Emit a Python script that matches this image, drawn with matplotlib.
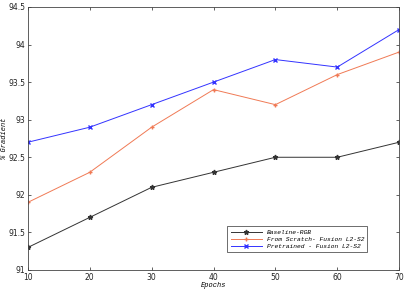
import matplotlib
matplotlib.use("Agg")
import matplotlib.pyplot as plt

epochs = [10, 20, 30, 40, 50, 60, 70]
baseline = [91.3, 91.7, 92.1, 92.3, 92.5, 92.5, 92.7]
scratch = [91.9, 92.3, 92.9, 93.4, 93.2, 93.6, 93.9]
pretrained = [92.7, 92.9, 93.2, 93.5, 93.8, 93.7, 94.2]
labels = ["Baseline-RGB", "From Scratch- Fusion L2-S2", "Pretrained - Fusion L2-S2"]

fig = plt.figure(figsize=(4.04, 2.9), dpi=100)
ax = fig.add_axes([0.069, 0.069, 0.919, 0.907])

ax.plot(epochs, baseline, color="#333333", lw=0.7, marker="*", ms=3.5, label=labels[0])
ax.plot(epochs, scratch, color="#f07a55", lw=0.7, marker="+", ms=3.5, label=labels[1])
ax.plot(epochs, pretrained, color="#3333ff", lw=0.7, marker="x", ms=3, label=labels[2])

ax.set_xlim(10, 70)
ax.set_ylim(91, 94.5)
ax.set_xticks(epochs)
ax.set_yticks([91, 91.5, 92, 92.5, 93, 93.5, 94, 94.5])
ax.set_yticklabels(["91", "91.5", "92", "92.5", "93", "93.5", "94", "94.5"])
ax.tick_params(direction="in", top=True, right=True, labelsize=5.5, length=2.5, width=0.5, pad=2, colors="#222222")
for s in ax.spines.values():
    s.set_linewidth(0.6)
    s.set_color("#444444")

mono = {"family": "Liberation Mono", "style": "italic", "size": 5}
ax.set_xlabel("Epochs", fontdict=mono, labelpad=0)
ax.set_ylabel("% Gradient", fontdict=mono, labelpad=1)
ax.yaxis.set_label_coords(-0.052, 0.5)

leg = ax.legend(loc="lower right", bbox_to_anchor=(0.923, 0.055), prop={"family": "Liberation Mono", "style": "italic", "size": 4.5},
                fancybox=False, edgecolor="#333333", framealpha=1, handlelength=5, borderpad=0.5, labelspacing=0.3)
leg.get_frame().set_linewidth(0.5)

fig.savefig("out.png", dpi=100)
